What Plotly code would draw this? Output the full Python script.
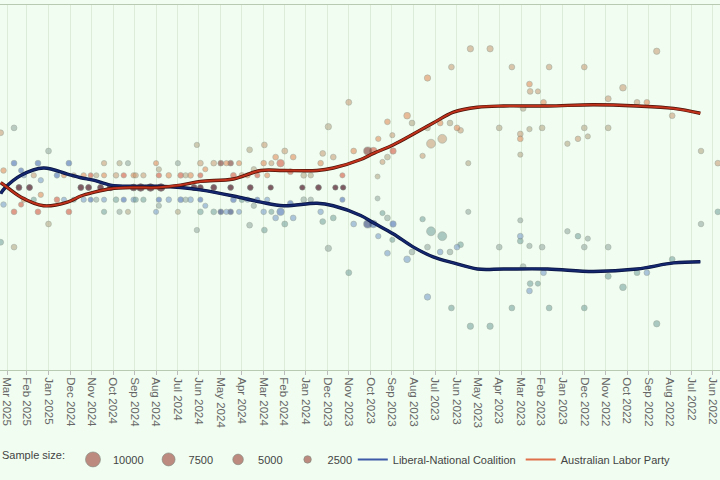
import numpy as np
import plotly.graph_objects as go

# ---------------- data ----------------
trend_dates = ["2022-06-19", "2022-07-27", "2022-09-17", "2022-11-18", "2023-01-22",
               "2023-03-26", "2023-05-02", "2023-06-05", "2023-07-04", "2023-08-01",
               "2023-08-30", "2023-09-27", "2023-10-15", "2023-11-23", "2023-12-16",
               "2024-02-02", "2024-03-05", "2024-04-13", "2024-05-30", "2024-06-27",
               "2024-07-30", "2024-09-02", "2024-10-05", "2024-10-29", "2024-11-16",
               "2024-12-05", "2025-01-08", "2025-02-09", "2025-03-05", "2025-03-10"]
alp_trend = [56.1, 56.5, 56.7, 56.8, 56.7, 56.7, 56.6, 56.2, 55.3, 54.4,
             53.5, 52.8, 52.3, 51.6, 51.4, 51.4, 51.4, 50.7, 50.5, 50.2,
             50.0, 50.0, 49.9, 49.6, 49.3, 48.8, 48.5, 49.2, 50.2, 50.4]
lnp_trend = [43.9, 43.8, 43.3, 43.1, 43.3, 43.3, 43.3, 43.8, 44.3, 45.1,
             46.2, 47.1, 47.7, 48.5, 48.7, 48.5, 48.8, 49.3, 49.8, 50.0,
             50.1, 50.1, 50.2, 50.6, 50.8, 51.1, 51.6, 51.0, 49.9, 49.5]

poll_dates = [
    "2022-05-25", "2022-06-18", "2022-07-29", "2022-08-20", "2022-09-03", "2022-09-17",
    "2022-10-07", "2022-10-28", "2022-10-28", "2022-11-26", "2022-12-01", "2022-12-01",
    "2022-12-10", "2022-12-25", "2023-01-20", "2023-01-28", "2023-01-30", "2023-02-05",
    "2023-02-16", "2023-02-17", "2023-02-17", "2023-02-26", "2023-03-02", "2023-03-02",
    "2023-03-02", "2023-03-14", "2023-04-01", "2023-04-14", "2023-05-12", "2023-05-15",
    "2023-05-26", "2023-05-31", "2023-06-08", "2023-06-10", "2023-06-21", "2023-06-24",
    "2023-07-07", "2023-07-12", "2023-07-12", "2023-07-19", "2023-08-03", "2023-08-10",
    "2023-08-30", "2023-08-31", "2023-09-07", "2023-09-07", "2023-09-14", "2023-09-20",
    "2023-09-21", "2023-09-27", "2023-10-05",
    "2023-10-25", "2023-11-01", "2023-11-09", "2023-11-10", "2023-11-20", "2023-11-23",
    "2023-11-30", "2023-12-08", "2023-12-11", "2023-12-14", "2024-01-04", "2024-01-06",
    "2024-01-19", "2024-01-23", "2024-01-31", "2024-02-06", "2024-02-13", "2024-02-19",
    "2024-02-20", "2024-02-29", "2024-03-01", "2024-03-10", "2024-03-15", "2024-03-20",
    "2024-03-21", "2024-03-24", "2024-04-13", "2024-04-17", "2024-04-17", "2024-04-23",
    "2024-05-01", "2024-05-11", "2024-05-11", "2024-05-23", "2024-05-30", "2024-05-30",
    "2024-05-30", "2024-06-04", "2024-06-13", "2024-06-27", "2024-07-01", "2024-07-14",
    "2024-07-25", "2024-07-28", "2024-07-28", "2024-08-09", "2024-08-19", "2024-08-23",
    "2024-09-02", "2024-09-02", "2024-09-10", "2024-09-16", "2024-09-27", "2024-10-05",
    "2024-10-14", "2024-10-14", "2024-10-19", "2024-11-02", "2024-11-05", "2024-11-12",
    "2024-11-16", "2024-11-26", "2024-12-03", "2024-12-10", "2025-01-01", "2025-01-12",
    "2025-01-16", "2025-01-28", "2025-02-05", "2025-02-09", "2025-02-12", "2025-02-19",
    "2025-02-19", "2025-03-06", "2025-03-10",
    "2023-12-25", "2024-02-25", "2024-04-01", "2024-06-08", "2024-06-20", "2024-08-01",
    "2024-08-30", "2024-10-25", "2024-12-20", "2025-01-22", "2024-04-05", "2024-09-22"]
alp_2pp = [
    52.0, 53.0, 55.9, 61.2, 57.0, 57.0,
    58.2, 57.3, 54.9, 54.2, 59.9, 54.9,
    54.0, 53.6, 59.9, 57.0, 54.9, 57.9,
    57.9, 58.5, 54.8, 56.5, 54.4, 54.0,
    52.7, 59.9, 54.9, 61.4, 61.4, 52.0,
    54.7, 54.9, 59.9, 55.3, 54.0, 55.3,
    53.6, 59.0, 54.9, 52.6, 55.3, 55.9,
    53.0, 54.3, 55.4, 52.5, 52.1, 54.0,
    50.9, 53.0, 53.0,
    53.0, 57.0, 50.0, 51.0, 50.0, 52.5,
    55.0, 52.8, 52.0, 50.0, 51.0, 50.0,
    52.5, 51.3, 53.0, 52.0, 52.5, 52.0,
    50.0, 53.5, 52.0, 51.0, 51.5, 50.0,
    53.1, 51.0, 51.0, 52.0, 50.0, 52.0,
    52.0, 52.0, 50.0, 51.5, 52.0, 50.0,
    51.0, 53.5, 51.0, 51.0, 48.0, 51.0,
    50.0, 51.0, 51.5, 50.0, 51.0, 50.0,
    51.0, 50.0, 48.0, 51.0, 51.0, 50.0,
    52.0, 51.0, 50.0, 51.0, 50.0, 51.0,
    50.0, 51.0, 48.0, 51.0, 47.0, 49.4,
    48.0, 50.0, 49.0, 48.6, 50.0, 48.0,
    45.1, 51.4, 54.5,
    51.0, 51.0, 51.0, 50.0, 51.0, 52.0,
    51.0, 51.0, 49.0, 51.0, 52.0, 52.0]
lnp_2pp = [
    48.0, 47.0, 44.1, 38.8, 43.0, 43.0,
    41.8, 42.7, 45.1, 45.8, 40.1, 45.1,
    46.0, 46.4, 40.1, 43.0, 45.1, 42.1,
    42.1, 41.5, 45.2, 43.5, 45.6, 46.0,
    47.3, 40.1, 45.1, 38.6, 38.6, 48.0,
    45.3, 45.1, 40.1, 44.7, 46.0, 44.7,
    46.4, 41.0, 45.1, 47.4, 44.7, 44.1,
    47.0, 45.7, 44.6, 47.5, 47.9, 46.0,
    49.1, 47.0, 47.0,
    47.0, 43.0, 50.0, 49.0, 50.0, 47.5,
    45.0, 47.2, 48.0, 50.0, 49.0, 50.0,
    47.5, 48.7, 47.0, 48.0, 47.5, 48.0,
    50.0, 46.5, 48.0, 49.0, 48.5, 50.0,
    46.9, 49.0, 49.0, 48.0, 50.0, 48.0,
    48.0, 48.0, 50.0, 48.5, 48.0, 50.0,
    49.0, 46.5, 49.0, 49.0, 52.0, 49.0,
    50.0, 49.0, 48.5, 50.0, 49.0, 50.0,
    49.0, 50.0, 52.0, 49.0, 49.0, 50.0,
    48.0, 49.0, 50.0, 49.0, 50.0, 49.0,
    50.0, 49.0, 52.0, 49.0, 53.0, 50.6,
    52.0, 50.0, 51.0, 51.4, 50.0, 52.0,
    54.9, 48.6, 45.5,
    49.0, 49.0, 49.0, 50.0, 49.0, 48.0,
    49.0, 49.0, 51.0, 49.0, 48.0, 48.0]
sample_sizes = [
    1500, 1400, 1500, 1800, 1500, 1500,
    2000, 1600, 1500, 1200, 1500, 1500,
    1400, 1300, 1500, 1500, 1500, 1200,
    1500, 1500, 1300, 1500, 1500, 1500,
    1200, 1500, 1500, 1800, 1800, 1200,
    1500, 1500, 1500, 1500, 3500, 1500,
    3500, 1800, 1500, 1300, 1500, 2000,
    1800, 1200, 1500, 1500, 1200, 1300,
    1100, 2500, 3000,
    1500, 1600, 1200, 1200, 1200, 1500,
    1800, 1500, 1400, 1400, 1500, 1200,
    1500, 1500, 1600, 2500, 1500, 1200,
    1200, 1500, 1400, 1200, 1300, 1400,
    1500, 1300, 1500, 1500, 1400, 1300,
    1500, 1500, 1500, 1200, 1500, 1400,
    1200, 1300, 1500, 1500, 1200, 1400,
    2500, 1300, 1200, 2500, 1300, 2500,
    1300, 2000, 1200, 1300, 1400, 1800,
    1300, 1200, 1500, 1200, 1500, 1300,
    1500, 1200, 1500, 1200, 1500, 1300,
    1500, 1500, 1300, 1200, 1500, 1500,
    1500, 1400, 1500,
    1300, 1200, 1400, 1500, 1300, 1200,
    1300, 1200, 1400, 1300, 1200, 1300]
pollster_ids = [
    2, 4, 2, 2, 1, 2,
    2, 2, 4, 4, 2, 4,
    2, 4, 2, 1, 4, 2,
    2, 1, 4, 4, 2, 1,
    4, 2, 4, 2, 2, 4,
    2, 1, 2, 4, 2, 1,
    2, 1, 4, 2, 4, 1,
    0, 2, 1, 4, 2, 1,
    4, 0, 3,
    1, 2, 3, 0, 3, 2,
    4, 2, 1, 3, 4, 3,
    1, 0, 2, 0, 1, 2,
    3, 2, 1, 0, 4, 3,
    4, 1, 0, 3, 3, 1,
    3, 2, 3, 1, 2, 3,
    0, 4, 1, 0, 4, 1,
    3, 0, 4, 3, 2, 3,
    1, 3, 4, 0, 2, 3,
    2, 1, 3, 0, 3, 1,
    3, 2, 0, 1, 4, 1,
    0, 3, 1, 0, 3, 0,
    4, 1, 2,
    4, 1, 2, 3, 4, 1,
    2, 4, 0, 2, 1, 4]

legend_samples = [10000, 7500, 5000, 2500]
legend_sample_labels = ["10000", "7500", "5000", "2500"]

series_names = ["Australian Labor Party", "Liberal-National Coalition"]

# ---------------- styles ----------------
ALP_COLORS = ["#d65a44", "#e2905e", "#c9a07c", "#7e3a36", "#b7a98a"]
LNP_COLORS = ["#4f73b8", "#7d9fca", "#7aa6a0", "#33427a", "#97aca4"]
ALP_LINE = "#c0321c"
LNP_LINE = "#14276e"
BG = "#f0fdf0"


def dot_size(n):
    return 0.15 * np.sqrt(np.asarray(n, dtype=float))


fig = go.Figure()

# poll dots
fig.add_trace(go.Scatter(
    x=poll_dates, y=lnp_2pp, mode="markers", showlegend=False, hoverinfo="skip",
    marker=dict(size=dot_size(sample_sizes), color=[LNP_COLORS[i] for i in pollster_ids],
                opacity=0.6, line=dict(color="rgba(110,120,110,0.55)", width=1))))
fig.add_trace(go.Scatter(
    x=poll_dates, y=alp_2pp, mode="markers", showlegend=False, hoverinfo="skip",
    marker=dict(size=dot_size(sample_sizes), color=[ALP_COLORS[i] for i in pollster_ids],
                opacity=0.6, line=dict(color="rgba(110,120,110,0.55)", width=1))))

# trend lines (dark underlay + main line)
for vals, dark, col in [(lnp_trend, "#0a1440", LNP_LINE),
                        (alp_trend, "#4a1208", ALP_LINE)]:
    fig.add_trace(go.Scatter(x=trend_dates, y=vals, mode="lines", showlegend=False,
                             hoverinfo="skip",
                             line=dict(color=dark, width=3.4, shape="spline", smoothing=1)))
    fig.add_trace(go.Scatter(x=trend_dates, y=vals, mode="lines", showlegend=False,
                             hoverinfo="skip",
                             line=dict(color=col, width=2, shape="spline", smoothing=1)))

# legend entries: parties
fig.add_trace(go.Scatter(x=[None], y=[None], mode="lines", name=series_names[1],
                         line=dict(color="#3d5aa8", width=2), legend="legend"))
fig.add_trace(go.Scatter(x=[None], y=[None], mode="lines", name=series_names[0],
                         line=dict(color="#e0704a", width=2), legend="legend"))
# legend entries: sample sizes
for n, lab in zip(legend_samples, legend_sample_labels):
    fig.add_trace(go.Scatter(x=[None], y=[None], mode="markers", name=lab,
                             marker=dict(size=float(dot_size(n)), color="#b3766c", opacity=0.85,
                                         line=dict(color="rgba(110,120,110,0.6)", width=1)),
                             legend="legend2"))

fig.update_layout(
    width=720, height=480,
    margin=dict(l=0, r=0, t=5, b=110),
    paper_bgcolor=BG, plot_bgcolor=BG,
    font=dict(family="Liberation Sans, Arial, sans-serif", size=11, color="#444"),
    legend=dict(orientation="h", x=0.49, xanchor="left", y=-0.245, yanchor="middle",
                itemwidth=30, font=dict(size=11, color="#444"), bgcolor="rgba(0,0,0,0)",
                traceorder="normal"),
    legend2=dict(orientation="h", x=0.0, xanchor="left", y=-0.245, yanchor="middle",
                 itemwidth=30, itemsizing="trace", font=dict(size=11, color="#444"),
                 title=dict(text="Sample size:", side="left", font=dict(size=11, color="#444")),
                 bgcolor="rgba(0,0,0,0)", traceorder="normal"),
    showlegend=True,
)
fig.update_xaxes(
    type="date", range=["2025-03-11", "2022-05-22"],
    tick0="2022-06-01", dtick="M1", tickformat="%b %Y", tickangle=90,
    tickfont=dict(size=11.5, color="#666"), ticks="outside", ticklen=4, tickcolor="#bbb",
    showgrid=True, gridcolor="#dcecd8", gridwidth=1,
    showline=True, linecolor="#b8cbb2", linewidth=1, mirror=True, zeroline=False,
)
fig.update_yaxes(range=[35, 65], showgrid=False, showticklabels=False, zeroline=False,
                 showline=False, ticks="")

fig.write_html("out.html")
